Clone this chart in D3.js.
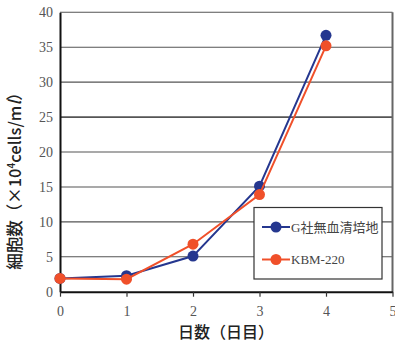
<!DOCTYPE html>
<html>
<head>
<meta charset="utf-8">
<script src="https://cdn.jsdelivr.net/npm/d3@7"></script>
<style>
  body { margin: 0; background: #fff; }
  svg { display: block; }
</style>
</head>
<body>
<svg id="chart" width="395" height="343"></svg>
<script>
// days on the x axis
const days = [0, 1, 2, 3, 4];
// cell counts (x10^4 cells/ml)
const gSerumFree = [1.9, 2.3, 5.1, 15.1, 36.7];
const kbm220 = [1.9, 1.8, 6.8, 13.9, 35.2];
const seriesNames = ["G社無血清培地", "KBM-220"];
const xTicks = [0, 1, 2, 3, 4, 5];
const yTicks = [0, 5, 10, 15, 20, 25, 30, 35, 40];

let svg = d3.select("#chart");

let x = d3.scaleLinear().domain([0, 5]).range([60, 392.5]);
let y = d3.scaleLinear().domain([0, 40]).range([291.7, 12.3]);

const blue = "#25378f";
const orange = "#f0502a";
const serif = "'Liberation Serif', 'DejaVu Serif', serif";

// horizontal grid lines
svg.append("g")
    .selectAll("line")
    .data(yTicks.filter(d => d > 0))
    .enter()
    .append("line")
    .attr("x1", x(0))
    .attr("x2", x(5))
    .attr("y1", d => y(d))
    .attr("y2", d => y(d))
    .attr("stroke", "#555")
    .attr("stroke-width", d => d == 25 ? 1.6 : 1.1);

// right border
svg.append("line")
    .attr("x1", x(5)).attr("x2", x(5))
    .attr("y1", y(40)).attr("y2", y(0))
    .attr("stroke", "#666")
    .attr("stroke-width", 2);

// y axis
let yAxis = d3.axisLeft(y).tickValues(yTicks).tickFormat(d3.format("d")).tickSize(0).tickPadding(7);
let gy = svg.append("g").attr("transform", "translate(" + x(0) + ",0)").call(yAxis);
gy.attr("font-family", serif).attr("font-size", 14);
gy.select(".domain").attr("stroke", "#111").attr("stroke-width", 2);
gy.selectAll("text").attr("fill", "#555");

// x axis
let xAxis = d3.axisBottom(x).tickValues(xTicks).tickFormat(d3.format("d")).tickSize(5).tickSizeOuter(0).tickPadding(9);
let gx = svg.append("g").attr("transform", "translate(0," + y(0) + ")").call(xAxis);
gx.attr("font-family", serif).attr("font-size", 14);
gx.select(".domain").attr("stroke", "#111").attr("stroke-width", 2);
gx.selectAll(".tick line").attr("stroke", "#333").attr("stroke-width", 1.2);
gx.selectAll("text").attr("fill", "#555");

// series lines and markers
let line = d3.line().x((d, i) => x(days[i])).y(d => y(d));
[[gSerumFree, blue], [kbm220, orange]].forEach(function(s){
    svg.append("path")
        .datum(s[0])
        .attr("d", line)
        .attr("fill", "none")
        .attr("stroke", s[1])
        .attr("stroke-width", 2);
    svg.append("g")
        .selectAll("circle")
        .data(s[0])
        .enter()
        .append("circle")
        .attr("cx", (d, i) => x(days[i]))
        .attr("cy", d => y(d))
        .attr("r", 5.5)
        .attr("fill", s[1]);
});

// legend
let legend = svg.append("g");
legend.append("rect")
    .attr("x", 254).attr("y", 207.5)
    .attr("width", 128).attr("height", 71.5)
    .attr("fill", "#fff")
    .attr("stroke", "#333")
    .attr("stroke-width", 1.2);
[blue, orange].forEach(function(c, i){
    let ly = 227 + i * 32.5;
    legend.append("line")
        .attr("x1", 262).attr("x2", 290)
        .attr("y1", ly).attr("y2", ly)
        .attr("stroke", c).attr("stroke-width", 2);
    legend.append("circle")
        .attr("cx", 276).attr("cy", ly).attr("r", 5.5).attr("fill", c);
    legend.append("text")
        .attr("x", 291).attr("y", ly + 4.5)
        .attr("font-family", "'Liberation Serif', 'Noto Sans CJK JP', serif")
        .attr("font-size", 13)
        .attr("fill", "#444")
        .text(seriesNames[i]);
});

// axis titles
svg.append("text")
    .attr("x", 226).attr("y", 338)
    .attr("text-anchor", "middle")
    .attr("font-family", "'Noto Sans CJK JP', sans-serif")
    .attr("font-size", 16)
    .attr("font-weight", 500)
    .attr("fill", "#222")
    .text("日数（日目）");

let yt = svg.append("text")
    .attr("transform", "translate(21,177) rotate(-90)")
    .attr("text-anchor", "middle")
    .attr("font-family", "'Noto Sans CJK JP', sans-serif")
    .attr("font-size", 16.5)
    .attr("font-weight", 500)
    .attr("fill", "#222");
yt.append("tspan").text("細胞数（×10");
yt.append("tspan").attr("font-size", 10).attr("dy", -6).text("4");
yt.append("tspan").attr("dy", 6).text("cells/m");
yt.append("tspan").attr("font-style", "italic").text("l");
yt.append("tspan").text("）");
</script>
</body>
</html>
